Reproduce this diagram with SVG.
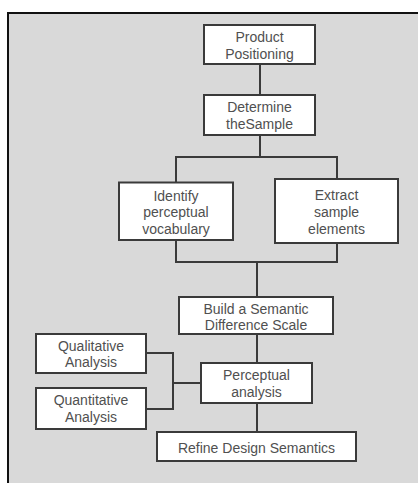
<svg xmlns="http://www.w3.org/2000/svg" width="418" height="483" viewBox="0 0 418 483">
<style>
.box{fill:#ffffff;stroke:#3a3a3a;stroke-width:2}
.lbl{font-family:"Liberation Sans","Noto Sans","DejaVu Sans",sans-serif;font-size:14px;fill:#505050;text-anchor:middle}
.con{fill:none;stroke:#3a3a3a;stroke-width:2}
</style>
<rect x="0" y="0" width="418" height="483" fill="#ffffff"/>
<rect x="8" y="13" width="412" height="472" fill="#d9d9d9"/>
<path d="M8 484 V13 H420" fill="none" stroke="#111" stroke-width="2"/>
<g id="connectors">
<path class="con" d="M260 64 V95"/>
<path class="con" d="M260 135 V157 M176 182.5 V157 H337 V179"/>
<path class="con" d="M176 240 V262 H337 V243 M257 262 V297"/>
<path class="con" d="M257 334 V363"/>
<path class="con" d="M146 353 H173 V409 H146 M173 383 H201"/>
<path class="con" d="M257 403 V432"/>
</g>
<g id="product-positioning"><rect class="box" x="204" y="25" width="111" height="39"/><text class="lbl" x="259.5" y="42">Product</text><text class="lbl" x="259.5" y="59">Positioning</text></g>
<g id="determine-sample"><rect class="box" x="204" y="95" width="111" height="40"/><text class="lbl" x="259.5" y="112">Determine</text><text class="lbl" x="259.5" y="129">theSample</text></g>
<g id="identify-vocabulary"><rect class="box" x="119" y="182.5" width="114" height="57.5"/><text class="lbl" x="176" y="200.5">Identify</text><text class="lbl" x="176" y="217">perceptual</text><text class="lbl" x="176" y="234">vocabulary</text></g>
<g id="extract-elements"><rect class="box" x="275" y="179" width="123" height="64"/><text class="lbl" x="336.5" y="199.5">Extract</text><text class="lbl" x="336.5" y="217">sample</text><text class="lbl" x="336.5" y="234">elements</text></g>
<g id="semantic-scale"><rect class="box" x="179" y="297" width="154" height="37"/><text class="lbl" x="256" y="313.5">Build a Semantic</text><text class="lbl" x="256" y="330">Difference Scale</text></g>
<g id="qualitative"><rect class="box" x="36" y="334" width="110" height="39"/><text class="lbl" x="91" y="350.5">Qualitative</text><text class="lbl" x="91" y="367">Analysis</text></g>
<g id="quantitative"><rect class="box" x="36" y="388" width="110" height="41"/><text class="lbl" x="91" y="405">Quantitative</text><text class="lbl" x="91" y="421.5">Analysis</text></g>
<g id="perceptual-analysis"><rect class="box" x="201" y="363" width="111" height="40"/><text class="lbl" x="256.5" y="380">Perceptual</text><text class="lbl" x="256.5" y="396.5">analysis</text></g>
<g id="refine-semantics"><rect class="box" x="157" y="432" width="199" height="29"/><text class="lbl" x="256.5" y="452.5">Refine Design Semantics</text></g>
</svg>
